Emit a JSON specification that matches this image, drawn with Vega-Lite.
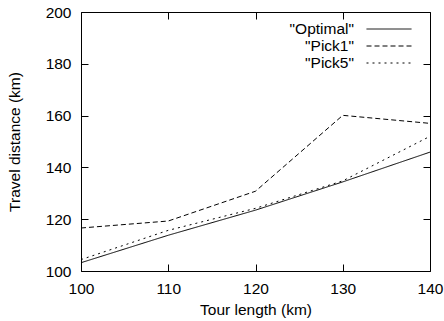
{
  "$schema": "https://vega.github.io/schema/vega-lite/v6.json",
  "width": 349,
  "height": 259,
  "autosize": {"type": "none"},
  "padding": {"left": 81, "top": 12, "right": 14, "bottom": 50},
  "background": "white",
  "config": {
    "font": "Liberation Sans",
    "view": {"stroke": "black", "strokeWidth": 1},
    "axis": {
      "domain": false,
      "grid": false,
      "tickColor": "black",
      "tickSize": -7,
      "tickWidth": 1,
      "labelColor": "black",
      "labelFontSize": 15.5,
      "labelPadding": 17,
      "labelFlush": false,
      "labelOverlap": false,
      "titleColor": "black",
      "titleFontSize": 15.5,
      "titleFontWeight": "normal"
    }
  },
  "data": {
    "values": [
      {"tour": 100, "dist": 103.2, "series": "Optimal"},
      {"tour": 110, "dist": 113.8, "series": "Optimal"},
      {"tour": 120, "dist": 123.5, "series": "Optimal"},
      {"tour": 130, "dist": 134.4, "series": "Optimal"},
      {"tour": 140, "dist": 145.9, "series": "Optimal"},
      {"tour": 100, "dist": 116.6, "series": "Pick1"},
      {"tour": 110, "dist": 119.3, "series": "Pick1"},
      {"tour": 120, "dist": 130.8, "series": "Pick1"},
      {"tour": 130, "dist": 160.1, "series": "Pick1"},
      {"tour": 140, "dist": 157.0, "series": "Pick1"},
      {"tour": 100, "dist": 104.4, "series": "Pick5"},
      {"tour": 110, "dist": 115.7, "series": "Pick5"},
      {"tour": 120, "dist": 124.2, "series": "Pick5"},
      {"tour": 130, "dist": 134.8, "series": "Pick5"},
      {"tour": 140, "dist": 152.0, "series": "Pick5"}
    ]
  },
  "layer": [
    {
      "mark": {"type": "line", "color": "black", "strokeWidth": 1},
      "encoding": {
        "x": {
          "field": "tour", "type": "quantitative",
          "scale": {"domain": [100, 140], "nice": false},
          "axis": {"title": "Tour length (km)", "values": [100, 110, 120, 130, 140], "titlePadding": 6, "labelDx": 1.5}
        },
        "y": {
          "field": "dist", "type": "quantitative",
          "scale": {"domain": [100, 200], "nice": false, "zero": false},
          "axis": {"title": "Travel distance (km)", "values": [100, 120, 140, 160, 180, 200], "titlePadding": 23, "labelDy": 1}
        },
        "strokeDash": {
          "field": "series", "type": "nominal",
          "scale": {"domain": ["Optimal", "Pick1", "Pick5"], "range": [[1, 0], [5, 3], [2, 4]]},
          "legend": {
            "title": null,
            "orient": "none",
            "legendX": 300,
            "legendY": 9,
            "symbolType": "M-3,0H3",
            "symbolSize": 225,
            "symbolStrokeColor": "black",
            "symbolFillColor": "transparent",
            "symbolStrokeWidth": 1,
            "rowPadding": 0,
            "labelAlign": "right",
            "labelOffset": -43,
            "labelFontSize": 15.5,
            "labelColor": "black",
            "labelExpr": "'\"' + datum.label + '\"'"
          }
        }
      }
    },
    {
      "mark": {"type": "point", "opacity": 0},
      "encoding": {
        "x": {
          "field": "tour", "type": "quantitative",
          "axis": {"orient": "top", "labels": false, "title": null, "values": [100, 110, 120, 130, 140]}
        },
        "y": {
          "field": "dist", "type": "quantitative",
          "axis": {"orient": "right", "labels": false, "title": null, "values": [100, 120, 140, 160, 180, 200]}
        }
      }
    }
  ],
  "resolve": {"axis": {"x": "independent", "y": "independent"}}
}
